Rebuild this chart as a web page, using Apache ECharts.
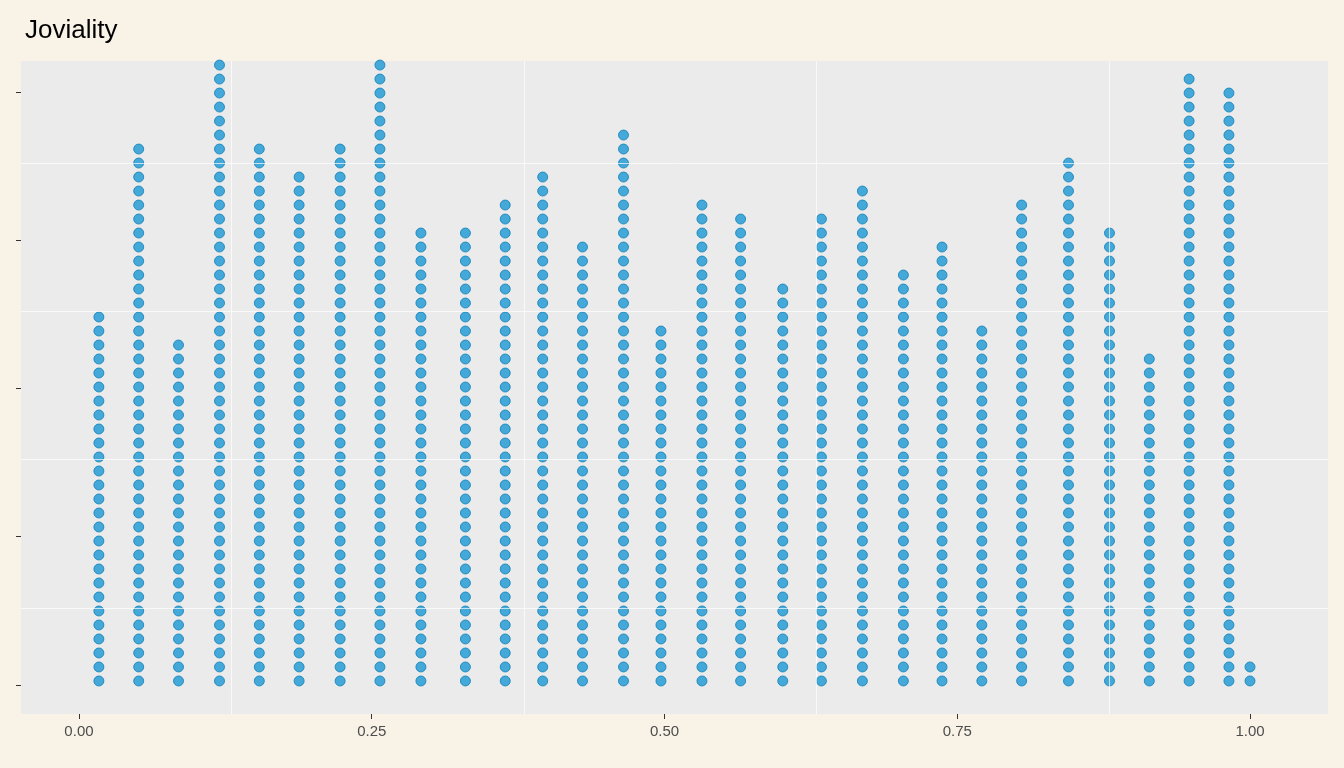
<!DOCTYPE html>
<html><head><meta charset="utf-8">
<script src="https://cdn.jsdelivr.net/npm/echarts@6/dist/echarts.min.js"></script>
<style>html,body{margin:0;background:#f9f2e6}#c{width:1344px;height:768px}</style>
</head><body><div id="c"></div>
<script>
// bin centres (joviality) and number of stacked dots per bin
const binX = [0.017, 0.051, 0.085, 0.120, 0.154, 0.188, 0.223, 0.257, 0.292, 0.330,
  0.364, 0.396, 0.430, 0.465, 0.497, 0.532, 0.565, 0.601, 0.634, 0.669,
  0.704, 0.737, 0.771, 0.805, 0.845, 0.880, 0.914, 0.948, 0.982, 1.000];
const binCount = [27, 39, 25, 46, 39, 37, 39, 46, 33, 33,
  35, 37, 32, 40, 26, 35, 34, 29, 34, 36,
  30, 32, 26, 35, 38, 33, 24, 44, 43, 2];
const xTicks = [0, 0.25, 0.5, 0.75, 1];
const yTicks = [0, 0.25, 0.5, 0.75, 1];
const yMinor = [0.125, 0.375, 0.625, 0.875];
const xMinor = [0.125, 0.375, 0.625, 0.875];

const dots = [];
binX.forEach((x, i) => { for (let k = 0; k < binCount[i]; k++) dots.push([x, k]); });

const chart = echarts.init(document.getElementById('c'));
chart.setOption({
  backgroundColor: '#f9f2e6',
  animation: false,
  title: {text: 'Joviality', left: 20, top: 13,
    textStyle: {fontFamily: 'Liberation Sans', fontSize: 26, fontWeight: 'normal', color: '#000'}},
  grid: {left: 21, right: 16, top: 61, bottom: 54, backgroundColor: '#ebebeb', show: true, borderWidth: 0},
  xAxis: {type: 'value', min: -0.0495, max: 1.0666,
    axisLine: {show: false, onZero: false}, splitLine: {show: false},
    axisTick: {show: true, customValues: xTicks, length: 5, lineStyle: {color: '#333'}},
    axisLabel: {customValues: xTicks, formatter: v => v.toFixed(2), color: '#4d4d4d', fontSize: 15, fontFamily: 'Liberation Sans', margin: 10}},
  yAxis: [
    {type: 'value', min: -0.049, max: 1.052, axisLine: {show: false, onZero: false}, splitLine: {show: false},
      axisTick: {show: true, customValues: yTicks, length: 5, lineStyle: {color: '#333'}},
      axisLabel: {show: false}},
    {type: 'value', min: -2.36, max: 44.29, show: false}
  ],
  series: [
    {type: 'line', data: [], silent: true,
      markLine: {symbol: 'none', silent: true, label: {show: false}, lineStyle: {type: 'solid', color: '#ffffff', width: 0.7},
        data: yMinor.map(v => ({yAxis: v})).concat(xMinor.map(v => ({xAxis: v})))}},
    {type: 'scatter', yAxisIndex: 1, data: dots, symbolSize: 10,
      itemStyle: {color: '#1a97d4', borderColor: '#127fb5', borderWidth: 1}}
  ]
});
</script></body></html>
